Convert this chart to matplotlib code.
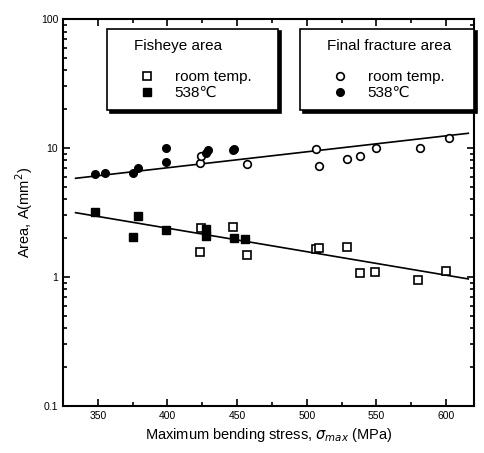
import matplotlib
matplotlib.use('Agg')
import matplotlib.pyplot as plt
import numpy as np
from matplotlib.ticker import MultipleLocator, LogLocator, NullFormatter

plt.rcParams['font.family'] = ['Liberation Sans', 'DejaVu Sans']

# fisheye area, room temp (open squares)
fe_rt_x = [424, 423, 447, 457, 507, 509, 529, 538, 549, 580, 600]
fe_rt_y = [2.41, 1.57, 2.45, 1.48, 1.65, 1.68, 1.72, 1.08, 1.09, 0.95, 1.11]
# fisheye area, 538C (filled squares)
fe_ht_x = [348, 379, 375, 399, 428, 428, 448, 456]
fe_ht_y = [3.17, 2.99, 2.03, 2.31, 2.37, 2.09, 2.0, 1.96]
# final fracture area, room temp (open circles)
ff_rt_x = [423, 424, 457, 507, 509, 529, 538, 550, 581, 602]
ff_rt_y = [7.7, 8.6, 7.55, 9.8, 7.2, 8.2, 8.7, 10.0, 10.05, 11.9]
# final fracture area, 538C (filled circles)
ff_ht_x = [348, 355, 375, 379, 399, 399, 429, 428, 448, 447]
ff_ht_y = [6.25, 6.37, 6.43, 7.0, 10.0, 7.8, 9.6, 9.1, 9.9, 9.6]

# fit lines (log A vs stress), end points
fit_x = [334, 616]
fit_fe = [3.15, 0.965]
fit_ff = [5.82, 13.0]

fig = plt.figure(figsize=(4.85, 4.53), dpi=100)
ax = fig.add_axes([0.130, 0.104, 0.847, 0.854])

ax.plot(fit_x, fit_ff, color='black', lw=1.2)
ax.plot(fit_x, fit_fe, color='black', lw=1.2)

ms = 5.5
h1, = ax.plot(fe_rt_x, fe_rt_y, 's', mfc='white', mec='black', mew=1.2, ms=ms, ls='none', label='room temp.    ')
h2, = ax.plot(fe_ht_x, fe_ht_y, 's', mfc='black', mec='black', ms=ms, ls='none', label='538\u2103')
h3, = ax.plot(ff_rt_x, ff_rt_y, 'o', mfc='white', mec='black', mew=1.2, ms=ms, ls='none', label='room temp.')
h4, = ax.plot(ff_ht_x, ff_ht_y, 'o', mfc='black', mec='black', ms=ms, ls='none', label='538\u2103')

ax.set_yscale('log')
ax.set_ylim(0.1, 100)
ax.set_xlim(325, 620)
ax.xaxis.set_major_locator(MultipleLocator(50))
ax.xaxis.set_minor_locator(MultipleLocator(25))
ax.yaxis.set_major_locator(LogLocator(base=10))
ax.yaxis.set_minor_locator(LogLocator(base=10, subs=np.arange(2, 10)))
ax.yaxis.set_minor_formatter(NullFormatter())
ax.set_yticks([0.1, 1, 10, 100])
ax.set_yticklabels(['0.1', '1', '10', '100'])

ax.tick_params(which='both', direction='in', top=True, right=True, labelsize=7.5, width=1.2)
ax.tick_params(which='major', length=5)
ax.tick_params(which='minor', length=3)
for s in ax.spines.values():
    s.set_linewidth(1.5)

ax.set_xlabel('Maximum bending stress, $\\sigma_{max}$ (MPa)', fontsize=10.5)
ax.set_ylabel('Area, A(mm$^2$)', fontsize=10.5)

leg_kw = dict(loc='upper left', fontsize=11, title_fontsize=11, fancybox=False,
              edgecolor='black', shadow={'color': 'black', 'alpha': 1},
              framealpha=1, handlelength=3.9, handletextpad=-0.13,
              borderpad=0.65, borderaxespad=0, labelspacing=0.15, alignment='left')
leg1 = ax.legend(handles=[h1, h2], title='    Fisheye area\n', bbox_to_anchor=(0.107, 0.975), **leg_kw)
leg1.get_frame().set_linewidth(1.2)
leg1.get_title().set_linespacing(1.1)
ax.add_artist(leg1)
leg2 = ax.legend(handles=[h3, h4], title='    Final fracture area   \n', bbox_to_anchor=(0.577, 0.975), **leg_kw)
leg2.get_frame().set_linewidth(1.2)
leg2.get_title().set_linespacing(1.1)

fig.savefig('out.png', dpi=100)
